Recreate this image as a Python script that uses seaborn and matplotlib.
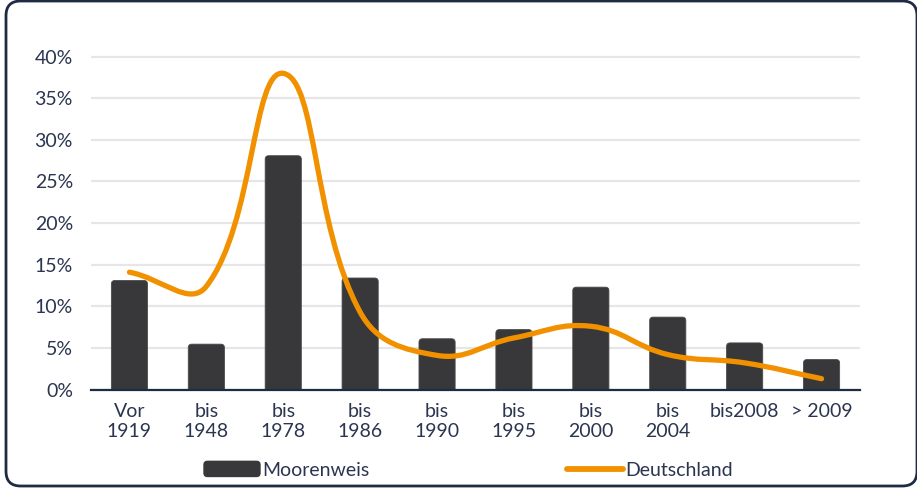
import numpy as np
import pandas as pd
import seaborn as sns
import matplotlib
matplotlib.use("Agg")
import matplotlib.pyplot as plt
from matplotlib.path import Path
from matplotlib.patches import PathPatch, FancyBboxPatch, Patch
from matplotlib.lines import Line2D
from matplotlib.legend_handler import HandlerPatch

# ---------------- data ----------------
categories = ["Vor\n1919", "bis\n1948", "bis\n1978", "bis\n1986", "bis\n1990",
              "bis\n1995", "bis\n2000", "bis\n2004", "bis2008", "> 2009"]
moorenweis = [13.1, 5.45, 28.1, 13.4, 6.1, 7.2, 12.3, 8.7, 5.6, 3.6]
deutschland = [14.1, 12.4, 38.0, 9.3, 4.1, 6.2, 7.6, 4.2, 3.2, 1.3]
y_ticks = [0, 5, 10, 15, 20, 25, 30, 35, 40]
y_tick_labels = ["0%", "5%", "10%", "15%", "20%", "25%", "30%", "35%", "40%"]
series_names = ["Moorenweis", "Deutschland"]

# ---------------- style ----------------
sns.set_theme(style="white")
plt.rcParams["font.family"] = ["Lato", "DejaVu Sans"]
TEXT = "#2b3550"
BAR = "#38383a"
ORANGE = "#f29100"
NAVY = "#1f2a44"
FS = 14

W, H = 917, 490
fig = plt.figure(figsize=(W / 100, H / 100), dpi=100)

# outer rounded frame
frame = FancyBboxPatch((6 / W, 4 / H), 911 / W, 485 / H,
                       boxstyle="round,pad=0,rounding_size=0.016",
                       transform=fig.transFigure, fill=False,
                       edgecolor=NAVY, linewidth=2.0, mutation_aspect=W / H,
                       clip_on=False)
fig.patches.append(frame)

ymax = 40.3
left_px, right_px = 91, 860
base_px = 389.5
px_per_unit = 8.32
top_px = base_px - ymax * px_per_unit
ax = fig.add_axes([left_px / W, (H - base_px) / H,
                   (right_px - left_px) / W, (base_px - top_px) / H])

df = pd.DataFrame({"cat": categories, "val": moorenweis})
sns.barplot(data=df, x="cat", y="val", order=categories, color=BAR,
            saturation=1, width=0.47, ax=ax)

ax.set_xlim(-0.5, len(categories) - 0.5)
ax.set_ylim(0, ymax)

# rounded tops for bars
slot_px = (right_px - left_px) / len(categories)
r_x = 3.5 / slot_px
r_y = 3.5 / px_per_unit
for p in list(ax.patches):
    x0, y0 = p.get_x(), p.get_y()
    w, h = p.get_width(), p.get_height()
    p.set_visible(False)
    fb = FancyBboxPatch((x0, y0 - 1.0), w, h + 1.0,
                        boxstyle=f"round,pad=0,rounding_size={r_x}",
                        mutation_aspect=r_y / r_x,
                        facecolor=BAR, edgecolor="#4a4a4c", linewidth=0.6,
                        zorder=2)
    ax.add_patch(fb)

# tension spline (distance weighted, in pixel space) through Deutschland points
t = 0.42
xs = np.arange(len(deutschland), dtype=float)
ys = np.array(deutschland, dtype=float)
n = len(xs)
pts = np.column_stack([xs, ys])


def pdist(a, b):
    return np.hypot((b[0] - a[0]) * slot_px, (b[1] - a[1]) * px_per_unit)


cp_prev = np.zeros((n, 2))
cp_next = np.zeros((n, 2))
for i in range(n):
    prv = pts[i - 1] if i > 0 else pts[i]
    cur = pts[i]
    nxt = pts[i + 1] if i < n - 1 else pts[i]
    d01, d12 = pdist(prv, cur), pdist(cur, nxt)
    s01 = d01 / (d01 + d12)
    s12 = d12 / (d01 + d12)
    cp_prev[i] = cur - t * s01 * (nxt - prv)
    cp_next[i] = cur + t * s12 * (nxt - prv)

verts = [tuple(pts[0])]
codes = [Path.MOVETO]
for i in range(n - 1):
    verts += [tuple(cp_next[i]), tuple(cp_prev[i + 1]), tuple(pts[i + 1])]
    codes += [Path.CURVE4] * 3
path = Path(verts, codes)
ax.add_patch(PathPatch(path, facecolor="none", edgecolor=ORANGE, linewidth=3.8,
                       capstyle="round", joinstyle="round", zorder=4))

# axes styling
ax.set_yticks(y_ticks)
ax.set_yticklabels(y_tick_labels)
ax.yaxis.grid(True, color="#e6e6e6", linewidth=1.6)
ax.xaxis.grid(False)
ax.set_axisbelow(True)
for s in ["top", "right", "left"]:
    ax.spines[s].set_visible(False)
ax.spines["bottom"].set_color(NAVY)
ax.spines["bottom"].set_linewidth(1.6)
ax.spines["bottom"].set_zorder(5)
ax.tick_params(axis="both", length=0, labelsize=FS, colors=TEXT)
ax.tick_params(axis="y", pad=13)
ax.tick_params(axis="x", pad=10)
for lab in ax.get_xticklabels():
    lab.set_linespacing(1.22)
ax.set_xlabel("")
ax.set_ylabel("")

# legends
def rounded_patch(legend, orig_handle, xdescent, ydescent, width, height, fontsize):
    return FancyBboxPatch((-xdescent, -ydescent), width, height,
                          boxstyle="round,pad=0,rounding_size=2.5")

bar_handle = Patch(facecolor=BAR, edgecolor=BAR)
line_handle = Line2D([], [], color=ORANGE, linewidth=4.2, solid_capstyle="round")

hl = 56 / (FS * 100 / 72)
leg1 = fig.legend([bar_handle], [series_names[0]], loc="center left",
                  bbox_to_anchor=(204 / W, 20 / H), frameon=False,
                  fontsize=FS, handlelength=hl, handleheight=0.82,
                  handletextpad=0.1, borderpad=0, borderaxespad=0,
                  handler_map={Patch: HandlerPatch(patch_func=rounded_patch)})
for tx in leg1.get_texts():
    tx.set_color(TEXT)
leg2 = fig.legend([line_handle], [series_names[1]], loc="center left",
                  bbox_to_anchor=(567 / W, 20 / H), frameon=False,
                  fontsize=FS, handlelength=hl, handletextpad=0.1,
                  borderpad=0, borderaxespad=0)
for tx in leg2.get_texts():
    tx.set_color(TEXT)

fig.savefig("out.png", dpi=100)
